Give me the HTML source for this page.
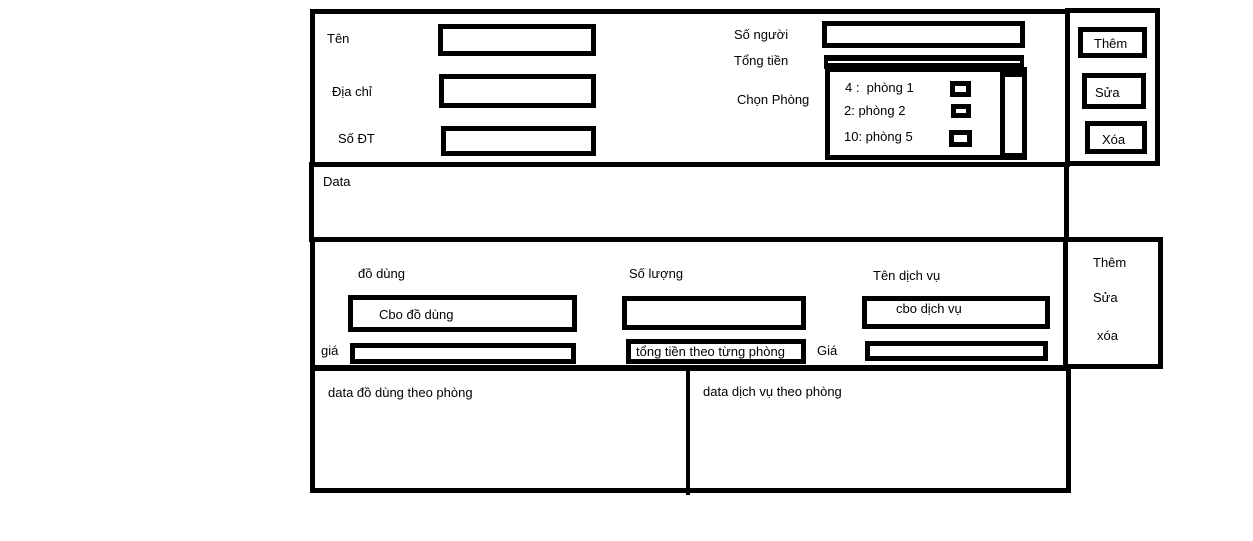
<!DOCTYPE html>
<html><head><meta charset="utf-8"><style>
body{margin:0;width:1253px;height:541px;background:#fff;position:relative;overflow:hidden;font-family:"Liberation Sans","DejaVu Sans",sans-serif;font-size:13px;color:#000}
.b{position:absolute;border:5px solid #000;box-sizing:border-box}
.b4{border-width:4px}
.f{position:absolute;background:#000}
.t{position:absolute;white-space:nowrap;line-height:15px}
</style></head><body>
<!-- top section -->
<div class="b" style="left:310px;top:9px;width:760px;height:158px"></div>
<div class="b" style="left:1065px;top:8px;width:95px;height:158px"></div>
<!-- data section -->
<div class="b" style="left:309px;top:162px;width:760px;height:80px"></div>
<!-- section 3 -->
<div class="b" style="left:310px;top:237px;width:758px;height:133px"></div>
<div class="b" style="left:1063px;top:237px;width:100px;height:132px"></div>
<!-- bottom -->
<div class="b" style="left:310px;top:366px;width:761px;height:127px"></div>
<div class="f" style="left:686px;top:368px;width:4px;height:127px"></div>

<!-- top fields -->
<div class="b" style="left:438px;top:24px;width:158px;height:32px"></div>
<div class="b" style="left:439px;top:74px;width:157px;height:34px"></div>
<div class="b" style="left:441px;top:126px;width:155px;height:30px"></div>
<div class="t" style="left:327px;top:31px">Tên</div>
<div class="t" style="left:332px;top:84px">Địa chỉ</div>
<div class="t" style="left:338px;top:131px">Số ĐT</div>
<div class="t" style="left:323px;top:174px">Data</div>

<div class="b" style="left:822px;top:21px;width:203px;height:27px"></div>
<div class="b" style="left:824px;top:55px;width:200px;height:14px;border-width:6px 4px 6px 4px"></div>
<div class="b" style="left:825px;top:67px;width:202px;height:93px"></div>
<div class="b" style="left:1000px;top:72px;width:27px;height:86px"></div>
<div class="b" style="left:950px;top:81px;width:21px;height:16px"></div>
<div class="b" style="left:951px;top:104px;width:20px;height:14px"></div>
<div class="b" style="left:949px;top:130px;width:23px;height:17px"></div>
<div class="t" style="left:734px;top:27px">Số người</div>
<div class="t" style="left:734px;top:53px">Tổng tiền</div>
<div class="t" style="left:737px;top:92px">Chọn Phòng</div>
<div class="t" style="left:845px;top:80px">4 :&nbsp; phòng 1</div>
<div class="t" style="left:844px;top:103px">2: phòng 2</div>
<div class="t" style="left:844px;top:129px">10: phòng 5</div>

<div class="b" style="left:1078px;top:27px;width:69px;height:31px"></div>
<div class="b" style="left:1082px;top:73px;width:64px;height:36px"></div>
<div class="b" style="left:1085px;top:121px;width:62px;height:33px"></div>
<div class="t" style="left:1094px;top:36px">Thêm</div>
<div class="t" style="left:1095px;top:85px">Sửa</div>
<div class="t" style="left:1102px;top:132px">Xóa</div>

<!-- section 3 fields -->
<div class="t" style="left:358px;top:266px">đồ dùng</div>
<div class="t" style="left:629px;top:266px">Số lượng</div>
<div class="t" style="left:873px;top:268px">Tên dịch vụ</div>
<div class="b" style="left:348px;top:295px;width:229px;height:37px"></div>
<div class="t" style="left:379px;top:307px">Cbo đồ dùng</div>
<div class="b" style="left:622px;top:296px;width:184px;height:34px"></div>
<div class="b" style="left:862px;top:296px;width:188px;height:33px"></div>
<div class="t" style="left:896px;top:301px">cbo dịch vụ</div>
<div class="t" style="left:321px;top:343px">giá</div>
<div class="b" style="left:350px;top:343px;width:226px;height:21px"></div>
<div class="b" style="left:626px;top:339px;width:180px;height:25px"></div>
<div class="t" style="left:636px;top:344px">tổng tiền theo từng phòng</div>
<div class="t" style="left:817px;top:343px">Giá</div>
<div class="b" style="left:865px;top:341px;width:183px;height:20px"></div>
<div class="t" style="left:1093px;top:255px">Thêm</div>
<div class="t" style="left:1093px;top:290px">Sửa</div>
<div class="t" style="left:1097px;top:328px">xóa</div>

<div class="t" style="left:328px;top:385px">data đồ dùng theo phòng</div>
<div class="t" style="left:703px;top:384px">data dịch vụ theo phòng</div>
</body></html>
